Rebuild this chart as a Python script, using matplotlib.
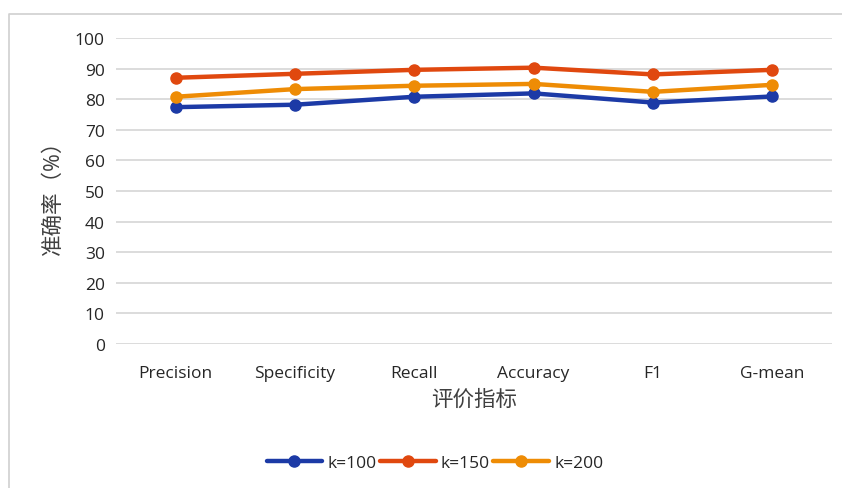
import matplotlib.pyplot as plt
from matplotlib.lines import Line2D

plt.rcParams['font.family'] = ['Open Sans', 'Noto Sans CJK SC', 'DejaVu Sans']

metrics = ['Precision', 'Specificity', 'Recall', 'Accuracy', 'F1', 'G-mean']
k100 = [77.4, 78.2, 80.8, 81.9, 78.9, 80.9]
k150 = [87.0, 88.3, 89.6, 90.3, 88.1, 89.6]
k200 = [80.8, 83.3, 84.4, 85.0, 82.4, 84.7]
series = [('k=100', k100, '#1c3aa6'), ('k=150', k150, '#e0480f'), ('k=200', k200, '#ee8c05')]
yticks = list(range(0, 101, 10))

fig = plt.figure(figsize=(8.42, 4.89), dpi=100)
ax = fig.add_axes([116 / 842, 1 - 345 / 489, 716 / 842, 306 / 489])

# outer chart border: left and top edges
bx, by = 9 / 842, 1 - 15 / 489
fig.add_artist(Line2D([bx, bx, 1.0], [0.0, by, by], transform=fig.transFigure,
                      color='#d0d0d0', linewidth=1.2, zorder=0))

x = range(len(metrics))
for name, vals, color in series:
    ax.plot(x, vals, color=color, linewidth=3.2, marker='o', markersize=8,
            label=name, solid_capstyle='round', zorder=3)

ax.set_xlim(-0.5, len(metrics) - 0.5)
ax.set_ylim(0, 100)
ax.set_yticks(yticks)
ax.set_xticks(list(x))
ax.set_xticklabels(metrics)
ax.grid(axis='y', color='#d9d9d9', linewidth=1.3)
ax.set_axisbelow(True)
for s in ax.spines.values():
    s.set_visible(False)
ax.tick_params(length=0, labelsize=12.5, colors='#262626', pad=8)
ax.tick_params(axis='x', pad=15)

ax.set_ylabel('准确率（%）', fontsize=15.5, color='#404040', labelpad=8)
ax.set_xlabel('评价指标', fontsize=15.5, color='#404040', labelpad=6)

fig.legend(loc='center', bbox_to_anchor=(435 / 842, 1 - 464 / 489), ncol=3,
           frameon=False, fontsize=12.5, handlelength=3.2, handletextpad=0.3,
           columnspacing=0.2, labelcolor='#262626')

fig.savefig('out.png', dpi=100, facecolor='white')
